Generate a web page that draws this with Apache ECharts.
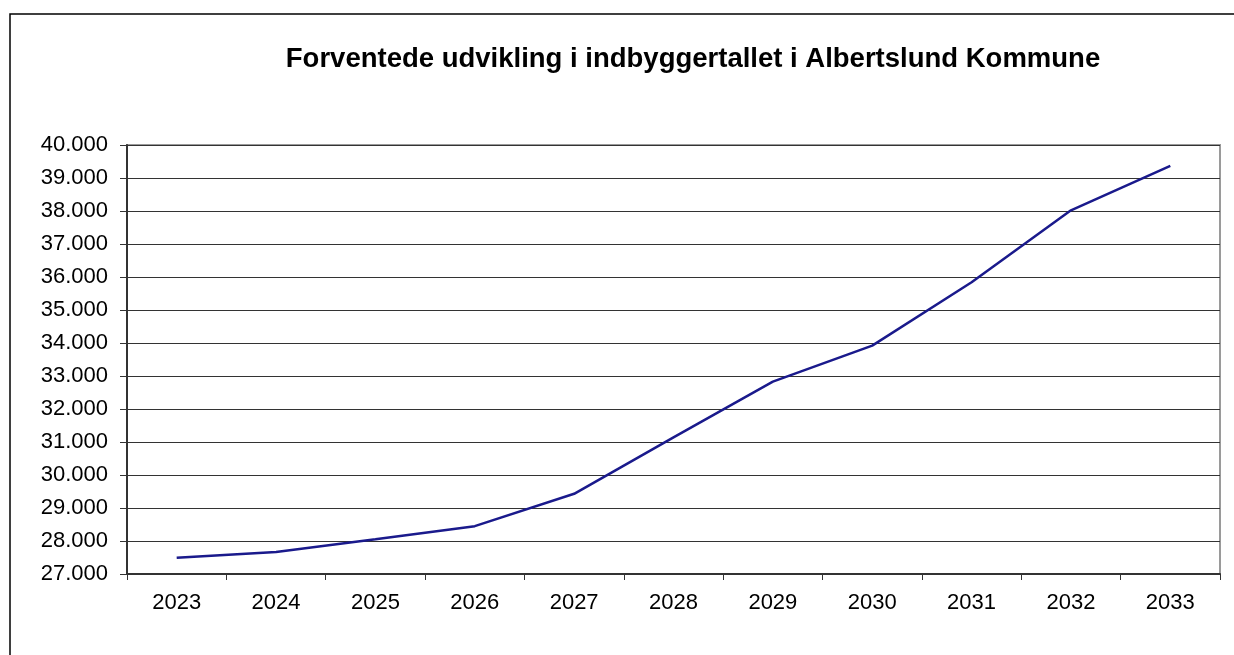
<!DOCTYPE html>
<html>
<head>
<meta charset="utf-8">
<script src="https://cdn.jsdelivr.net/npm/echarts@6/dist/echarts.min.js"></script>
<style>
  html, body { margin: 0; padding: 0; background: #fff; }
  #main { width: 1234px; height: 655px; }
</style>
</head>
<body>
<div id="main"></div>
<script>
// years and expected population
var years = ["2023", "2024", "2025", "2026", "2027", "2028", "2029", "2030", "2031", "2032", "2033"];
var population = [27490, 27670, 28050, 28450, 29430, 31140, 32830, 33920, 35840, 38020, 39370];
var titleText = "Forventede udvikling i indbyggertallet i Albertslund Kommune";

// danish thousands separator
function fmt(v) {
  return String(v).replace(/\B(?=(\d{3})+(?!\d))/g, ".");
}

var chart = echarts.init(document.getElementById("main"));
chart.setOption({
  animation: false,
  title: {
    text: titleText,
    left: 688,
    textAlign: "center",
    top: 40,
    textStyle: {
      fontFamily: "Liberation Sans, Arial, sans-serif",
      fontWeight: "bold",
      fontSize: 27.5,
      color: "#000"
    }
  },
  grid: {
    left: 127,
    right: 14,
    top: 145,
    bottom: 81,
    show: true,
    borderColor: "#9a9a9a",
    borderWidth: 2
  },
  graphic: [{
    type: "rect",
    shape: { x: 10, y: 14, width: 1300, height: 700 },
    style: { fill: null, stroke: "#000", lineWidth: 1.5 },
    silent: true
  }],
  xAxis: {
    type: "category",
    data: years,
    boundaryGap: true,
    axisLine: { lineStyle: { color: "#333", width: 2 } },
    axisTick: { show: true, length: 6, lineStyle: { color: "#333" } },
    axisLabel: {
      margin: 18,
      fontFamily: "Liberation Sans, Arial, sans-serif",
      fontSize: 22,
      color: "#000"
    }
  },
  yAxis: {
    type: "value",
    min: 27000,
    max: 40000,
    interval: 1000,
    axisLine: { show: true, lineStyle: { color: "#333", width: 2 } },
    axisTick: { show: true, length: 7, lineStyle: { color: "#333" } },
    splitLine: { lineStyle: { color: "#333", width: 1.2 } },
    axisLabel: {
      margin: 19,
      fontFamily: "Liberation Sans, Arial, sans-serif",
      fontSize: 22,
      color: "#000",
      formatter: fmt
    }
  },
  series: [{
    type: "line",
    data: population,
    symbol: "none",
    lineStyle: { color: "#1a1a8c", width: 2.5 }
  }]
});
</script>
</body>
</html>
